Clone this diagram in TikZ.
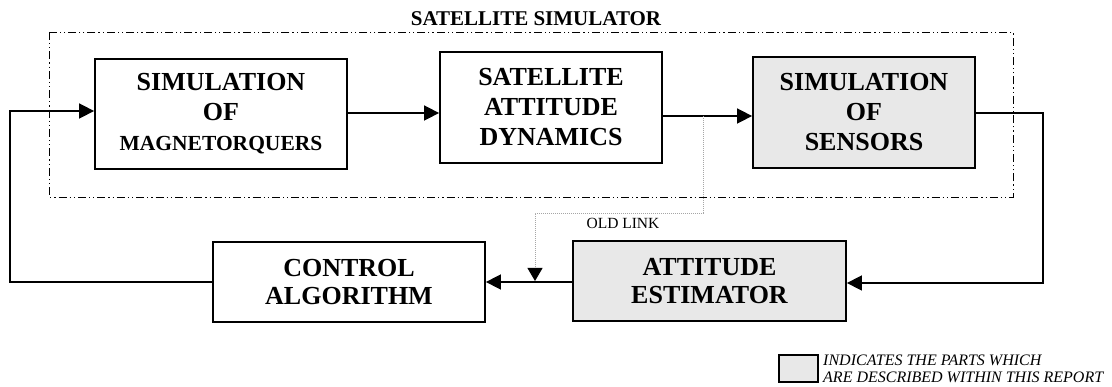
\documentclass[tikz,border=0pt]{standalone}
\usepackage{fontspec}
\setmainfont{Liberation Serif}
\usetikzlibrary{arrows.meta}
\definecolor{shade}{RGB}{232,232,232}
\tikzset{
  blk/.style={draw, line width=1.8pt, align=center, font=\fontsize{26}{30}\selectfont\bfseries, inner sep=0pt},
  shaded/.style={fill=shade},
  arr/.style={line width=1.6pt, -{Triangle[length=15pt,width=15pt]}},
  oldlnk/.style={draw=gray!70, line width=0.9pt, dash pattern=on 1pt off 1pt},
  frm/.style={line width=0.9pt, dash pattern=on 8pt off 3pt on 1.2pt off 3pt on 1.2pt off 3pt},
}
\begin{document}
\begin{tikzpicture}[x=1pt,y=-1pt]
\useasboundingbox (0,0) rectangle (1112,387);
% frame
\draw[frm] (49,32) rectangle (1013,197);
\node[font=\fontsize{21}{24}\selectfont\bfseries] (title) at (536,19) {SATELLITE SIMULATOR};
% blocks
\node[blk, minimum width=252pt, minimum height=110pt] (mag) at (221,114)
  {SIMULATION\\OF\\{\fontsize{21.5}{26}\selectfont MAGNETORQUERS}};
\node[blk, minimum width=222pt, minimum height=111pt] (sat) at (551,107.5)
  {SATELLITE\\ATTITUDE\\DYNAMICS};
\node[blk, shaded, minimum width=222pt, minimum height=111pt] (sens) at (864,112.5)
  {SIMULATION\\OF\\SENSORS};
\node[blk, minimum width=272pt, minimum height=80pt, font=\fontsize{26}{28}\selectfont\bfseries] (ctrl) at (349,282)
  {CONTROL\\ALGORITHM};
\node[blk, shaded, minimum width=273pt, minimum height=80pt, font=\fontsize{26}{28}\selectfont\bfseries] (est) at (709.5,281)
  {ATTITUDE\\ESTIMATOR};
% coordinates
\coordinate (fb) at (10,111);
\coordinate (j) at (703,116);
\coordinate (ol1) at (703,213);
\coordinate (ol2) at (535,213);
\coordinate (r) at (1043,113);
% connectors
\draw[arr] (ctrl.west |- 0,282) -| (fb) -- (fb -| mag.west);
\draw[arr] (mag.east |- 0,113) -- (sat.west |- 0,113);
\draw[arr] (sat.east |- j) -- (sens.west |- j);
\draw[arr] (sens.east |- r) -- (r) -- (r |- 0,283) -- (est.east |- 0,283);
\draw[arr] (est.west |- 0,282) -- (ctrl.east |- 0,282);
\draw[oldlnk, -{Triangle[length=13pt,width=15pt,color=black,fill=black]}] (j) -- (ol1) -- (ol2) -- (ol2 |- 0,281);
\node[font=\fontsize{15.5}{18}\selectfont] (old) at (623,223) {OLD LINK};
% legend
\node[draw, line width=1.6pt, shaded, minimum width=39pt, minimum height=27pt, inner sep=0pt] (leg) at (798.5,368.5) {};
\node[anchor=west, align=left, inner sep=0pt, font=\fontsize{16}{17}\selectfont\itshape] (legtxt) at (823,368.5)
  {INDICATES THE PARTS WHICH\\ARE DESCRIBED WITHIN THIS REPORT};
\end{tikzpicture}
\end{document}
